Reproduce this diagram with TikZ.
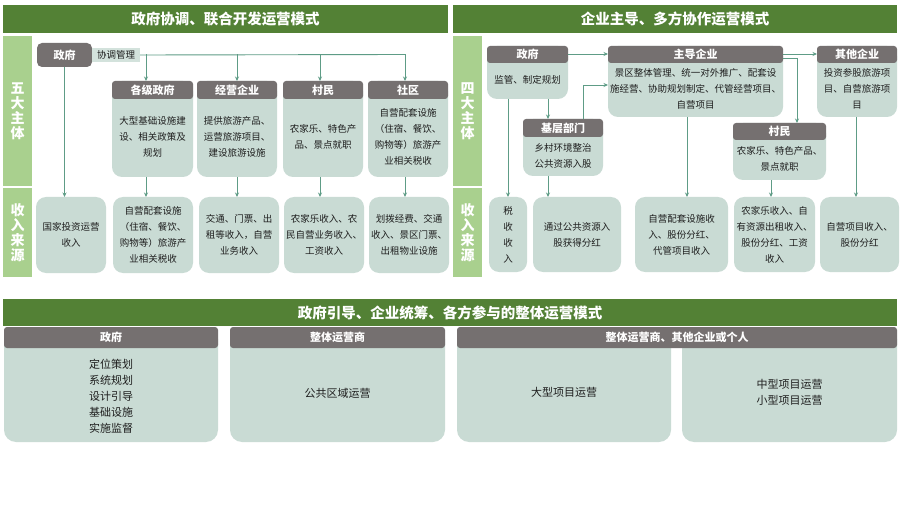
\documentclass[tikz,border=0pt]{standalone}
\usepackage{fontspec}
\setmainfont{Noto Sans CJK SC}
\usetikzlibrary{arrows.meta,calc}
\definecolor{gbar}{HTML}{538135}
\definecolor{lgbar}{HTML}{A9D08E}
\definecolor{hdr}{HTML}{757070}
\definecolor{bodyc}{HTML}{C9DBD4}
\definecolor{lblc}{HTML}{D3E2DC}
\definecolor{lnk}{HTML}{5E9C86}
\definecolor{txtc}{HTML}{1E1E1E}
\newcommand\mkbox[8]{%
  \node[bodyst, minimum width={#4-#2}, minimum height={#6-#3}] (#1) at ({(#2+#4)/2},{(#3+#6)/2}) {};
  \node[hdrst, minimum width={#4-#2}, minimum height={#5-#3}] (#1h) at ({(#2+#4)/2},{(#3+#5)/2}) {#7};
  \node[txt] (#1t) at ({(#2+#4)/2},{(#5+#6)/2-1}) {#8};
}
\newcommand\mkinc[6]{%
  \node[incst, minimum width={#4-#2}, minimum height={#5-#3}] (#1) at ({(#2+#4)/2},{(#3+#5)/2}) {#6};
}
\begin{document}
\begin{tikzpicture}[x=1pt,y=-1pt,
  banner/.style={fill=gbar, inner sep=0, outer sep=0, text=white, font=\fontsize{14.5}{16}\selectfont\bfseries},
  sidebar/.style={fill=lgbar, inner sep=0, outer sep=0},
  side/.style={text=white, align=center, inner sep=0, font=\fontsize{14}{15}\selectfont\bfseries},
  hdrst/.style={fill=hdr, rounded corners=3pt, inner sep=0, outer sep=0, text=white, font=\fontsize{11}{13}\selectfont\bfseries},
  bodyst/.style={fill=bodyc, rounded corners=10pt, inner sep=0, outer sep=0},
  incst/.style={fill=bodyc, rounded corners=10pt, inner sep=0, outer sep=0, align=center, text=txtc, font=\fontsize{9.5}{16}\selectfont},
  txt/.style={align=center, inner sep=0, text=txtc, font=\fontsize{9.5}{16}\selectfont},
  btxt/.style={align=center, inner sep=0, text=txtc, font=\fontsize{11}{16}\selectfont},
  ln/.style={draw=lnk, line width=0.9pt},
  arr/.style={draw=lnk, line width=0.9pt, -{Stealth[length=4.5pt,width=4pt]}}
]
\useasboundingbox (0,0) rectangle (903,508);
\fill[white] (0,0) rectangle (903,508);

% ===== Left panel =====
\node[banner, minimum width=445, minimum height=28] (bl) at (225.5,19) {政府协调、联合开发运营模式};
\node[sidebar, minimum width=29, minimum height=150] (sl1) at (17.5,111) {};
\node[sidebar, minimum width=29, minimum height=89] (sl2) at (17.5,232.5) {};
\node[side] at (sl1) {五\\大\\主\\体};
\node[side] at (sl2) {收\\入\\来\\源};

\node[hdrst, rounded corners=5pt, minimum width=55, minimum height=24] (zf) at (64.5,55) {政府};
\node[fill=lblc, inner sep=0, outer sep=0, minimum width=48, minimum height=14, text=txtc, font=\fontsize{9.5}{11}\selectfont] (xt) at (116,55) {协调管理};

\mkbox{gj}{112}{81}{193}{99}{177}{各级政府}{大型基础设施建\\设、相关政策及\\规划}
\mkbox{jy}{197}{81}{277}{99}{177}{经营企业}{提供旅游产品、\\运营旅游项目、\\建设旅游设施}
\mkbox{cm}{283}{81}{363}{99}{177}{村民}{农家乐、特色产\\品、景点就职}
\mkbox{sq}{368}{81}{448}{99}{177}{社区}{自营配套设施\\（住宿、餐饮、\\购物等）旅游产\\业相关税收}

\mkinc{in1}{36}{197}{106}{273}{国家投资运营\\收入}
\mkinc{in2}{113}{197}{193}{273}{自营配套设施\\（住宿、餐饮、\\购物等）旅游产\\业相关税收}
\mkinc{in3}{199}{197}{279}{273}{交通、门票、出\\租等收入，自营\\业务收入}
\mkinc{in4}{284}{197}{364}{273}{农家乐收入、农\\民自营业务收入、\\工资收入}
\mkinc{in5}{369}{197}{449}{273}{划拨经费、交通\\收入、景区门票、\\出租物业设施}

\coordinate (b1) at (146,54.5);
\coordinate (b2) at (237,54.5);
\coordinate (b3) at (320,54.5);
\coordinate (b4) at (405,54.5);
\draw[ln] (xt.east) -- (b4);
\draw[arr] (b1) -- (b1 |- gjh.north);
\draw[arr] (b2) -- (b2 |- jyh.north);
\draw[arr] (b3) -- (b3 |- cmh.north);
\draw[arr] (b4) -- (b4 |- sqh.north);
\draw[arr] (zf.south) -- (zf.south |- in1.north);
\draw[arr] (b1 |- gj.south) -- (b1 |- in2.north);
\draw[arr] (b2 |- jy.south) -- (b2 |- in3.north);
\draw[arr] (b3 |- cm.south) -- (b3 |- in4.north);
\draw[arr] (b4 |- sq.south) -- (b4 |- in5.north);

% ===== Right panel =====
\node[banner, minimum width=444, minimum height=28] (br) at (675,19) {企业主导、多方协作运营模式};
\node[sidebar, minimum width=29, minimum height=150] (sr1) at (467.5,111) {};
\node[sidebar, minimum width=29, minimum height=89] (sr2) at (467.5,232.5) {};
\node[side] at (sr1) {四\\大\\主\\体};
\node[side] at (sr2) {收\\入\\来\\源};

\mkbox{rzf}{487}{46}{568}{63}{99}{政府}{监管、制定规划}
\mkbox{zd}{608}{46}{783}{63}{117}{主导企业}{景区整体管理、统一对外推广、配套设\\施经营、协助规划制定、代管经营项目、\\自营项目}
\mkbox{qt}{817}{46}{897}{63}{117}{其他企业}{投资参股旅游项\\目、自营旅游项\\目}
\mkbox{jc}{523}{119}{603}{137}{176}{基层部门}{乡村环境整治\\公共资源入股}
\mkbox{rcm}{733}{123}{826}{140}{180}{村民}{农家乐、特色产品、\\景点就职}

\mkinc{r1}{489}{197}{527}{272}{税\\收\\收\\入}
\mkinc{r2}{533}{197}{621}{272}{通过公共资源入\\股获得分红}
\mkinc{r3}{635}{197}{728}{272}{自营配套设施收\\入、股份分红、\\代管项目收入}
\mkinc{r4}{734}{197}{815}{272}{农家乐收入、自\\有资源出租收入、\\股份分红、工资\\收入}
\mkinc{r5}{820}{197}{899}{272}{自营项目收入、\\股份分红}

\coordinate (d1) at (508,0);
\coordinate (d2) at (548,0);
\coordinate (d3) at (687,0);
\coordinate (d4) at (771,0);
\coordinate (d5) at (856,0);
\coordinate (u1) at (583,85);
\coordinate (k1) at (797,58);

\draw[arr] (rzfh.east |- 0,54) -- (zdh.west |- 0,54);
\draw[arr] (zdh.east |- 0,54) -- (qth.west |- 0,54);
\draw[ln] (zd.east |- k1) -- (k1);
\draw[arr] (k1) -- (k1 |- rcmh.north);
\draw[arr] (d2 |- rzf.south) -- (d2 |- jch.north);
\draw[ln] (u1 |- jch.north) -- (u1);
\draw[arr] (u1) -- (zd.west |- u1);
\draw[arr] (d1 |- rzf.south) -- (d1 |- r1.north);
\draw[arr] (d2 |- jc.south) -- (d2 |- r2.north);
\draw[arr] (d3 |- zd.south) -- (d3 |- r3.north);
\draw[arr] (d4 |- rcm.south) -- (d4 |- r4.north);
\draw[arr] (d5 |- qt.south) -- (d5 |- r5.north);

% ===== Bottom section =====
\node[banner, minimum width=894, minimum height=27] (bb) at (450,312.5) {政府引导、企业统筹、各方参与的整体运营模式};
\node[bodyst, rounded corners=12pt, minimum width=214, minimum height=115] (p1) at (111,384.5) {};
\node[bodyst, rounded corners=12pt, minimum width=215, minimum height=115] (p2) at (337.5,384.5) {};
\node[bodyst, rounded corners=12pt, minimum width=214, minimum height=115] (p3) at (564,384.5) {};
\node[bodyst, rounded corners=12pt, minimum width=215, minimum height=115] (p4) at (789.5,384.5) {};
\node[hdrst, minimum width=214, minimum height=21] (h1) at (111,337.5) {政府};
\node[hdrst, minimum width=215, minimum height=21] (h2) at (337.5,337.5) {整体运营商};
\node[hdrst, minimum width=440, minimum height=21] (h3) at (677,337.5) {整体运营商、其他企业或个人};
\node[btxt] (t1) at (111,396) {定位策划\\系统规划\\设计引导\\基础设施\\实施监督};
\node[btxt] (t2) at (337.5,393) {公共区域运营};
\node[btxt] (t3) at (564,392) {大型项目运营};
\node[btxt] (t4) at (789.5,392.5) {中型项目运营\\小型项目运营};
\end{tikzpicture}
\end{document}
